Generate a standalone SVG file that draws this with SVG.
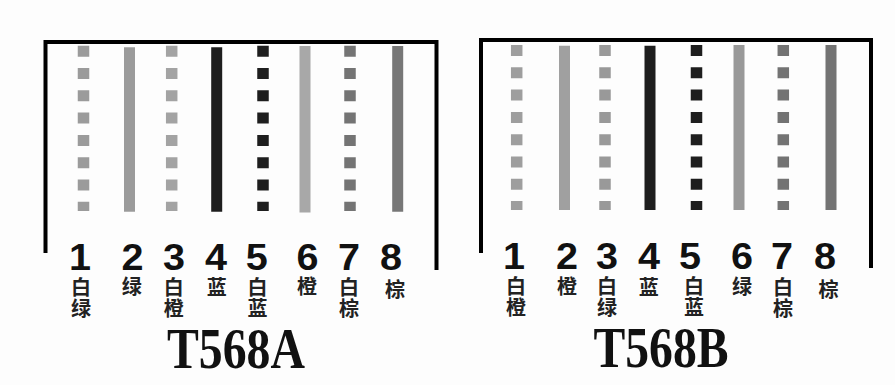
<svg xmlns="http://www.w3.org/2000/svg" width="895" height="385" viewBox="0 0 895 385">
<style>
.frame{fill:none;stroke:#000;stroke-width:4}
.solid{stroke-width:11;fill:none}
.dot{stroke-width:11.5;fill:none;stroke-dasharray:11 11.3}
.num{font-family:"Liberation Sans",Arial,sans-serif;font-weight:bold;font-size:37px;text-anchor:middle;fill:#111}
.cn{font-family:"Noto Sans CJK SC",sans-serif;font-weight:bold;font-size:20px;text-anchor:middle;fill:#222}
.title{font-family:"Liberation Serif","Times New Roman",serif;font-weight:bold;font-size:58px;text-anchor:middle;fill:#111}
</style>
<rect width="895" height="385" fill="#fdfdfd"/>
<g id="boxA">
<path class="frame" d="M45.5 253 V42 H436.5 V270"/>
</g>
<g id="boxB">
<path class="frame" d="M481 253 V40 H871 V268"/>
</g>
<g id="wiresA">
<line class="dot" x1="83.5" y1="45.7" x2="83.5" y2="211" stroke="#9b9b9b"/>
<line class="solid" x1="129.5" y1="47.3" x2="129.5" y2="211.7" stroke="#9b9b9b"/>
<line class="dot" x1="171.7" y1="45.7" x2="171.7" y2="211" stroke="#a3a3a3"/>
<line class="solid" x1="216.7" y1="47.3" x2="216.7" y2="211.7" stroke="#1e1e1e"/>
<line class="dot" x1="263" y1="45.7" x2="263" y2="211" stroke="#1e1e1e"/>
<line class="solid" x1="305" y1="46" x2="305" y2="212.5" stroke="#a8a8a8"/>
<line class="dot" x1="350" y1="45.7" x2="350" y2="211" stroke="#747474"/>
<line class="solid" x1="397.7" y1="46" x2="397.7" y2="211.7" stroke="#777"/>
</g>
<g id="wiresB">
<line class="dot" x1="516.7" y1="45" x2="516.7" y2="210" stroke="#9e9e9e"/>
<line class="solid" x1="564.5" y1="45.7" x2="564.5" y2="210" stroke="#a0a0a0"/>
<line class="dot" x1="605" y1="45" x2="605" y2="210" stroke="#999"/>
<line class="solid" x1="650" y1="45.7" x2="650" y2="210" stroke="#1e1e1e"/>
<line class="dot" x1="696.5" y1="45" x2="696.5" y2="210" stroke="#1e1e1e"/>
<line class="solid" x1="739" y1="45" x2="739" y2="210" stroke="#999"/>
<line class="dot" x1="783.3" y1="45" x2="783.3" y2="210" stroke="#737373"/>
<line class="solid" x1="831" y1="45" x2="831" y2="210" stroke="#737373"/>
</g>
<g id="labelsA">
<text class="num" x="80" y="270" textLength="22" lengthAdjust="spacingAndGlyphs">1</text>
<text class="num" x="132.5" y="270" textLength="22" lengthAdjust="spacingAndGlyphs">2</text>
<text class="num" x="174" y="270" textLength="22" lengthAdjust="spacingAndGlyphs">3</text>
<text class="num" x="216" y="270" textLength="22" lengthAdjust="spacingAndGlyphs">4</text>
<text class="num" x="256.7" y="270" textLength="22" lengthAdjust="spacingAndGlyphs">5</text>
<text class="num" x="307.5" y="270" textLength="22" lengthAdjust="spacingAndGlyphs">6</text>
<text class="num" x="349" y="270" textLength="22" lengthAdjust="spacingAndGlyphs">7</text>
<text class="num" x="391" y="270" textLength="22" lengthAdjust="spacingAndGlyphs">8</text>
<text class="cn" x="81" y="295">白</text>
<text class="cn" x="81" y="316">绿</text>
<text class="cn" x="131.7" y="294">绿</text>
<text class="cn" x="173.7" y="295">白</text>
<text class="cn" x="173.7" y="316">橙</text>
<text class="cn" x="216.7" y="295">蓝</text>
<text class="cn" x="257.5" y="295">白</text>
<text class="cn" x="257.5" y="316">蓝</text>
<text class="cn" x="307" y="294">橙</text>
<text class="cn" x="349" y="295">白</text>
<text class="cn" x="349" y="316">棕</text>
<text class="cn" x="395" y="297">棕</text>
<text class="title" x="236" y="368" textLength="138" lengthAdjust="spacingAndGlyphs">T568A</text>
</g>
<g id="labelsB">
<text class="num" x="514" y="269" textLength="22" lengthAdjust="spacingAndGlyphs">1</text>
<text class="num" x="567" y="269" textLength="22" lengthAdjust="spacingAndGlyphs">2</text>
<text class="num" x="607" y="269" textLength="22" lengthAdjust="spacingAndGlyphs">3</text>
<text class="num" x="649" y="269" textLength="22" lengthAdjust="spacingAndGlyphs">4</text>
<text class="num" x="690" y="269" textLength="22" lengthAdjust="spacingAndGlyphs">5</text>
<text class="num" x="742" y="269" textLength="22" lengthAdjust="spacingAndGlyphs">6</text>
<text class="num" x="782" y="269" textLength="22" lengthAdjust="spacingAndGlyphs">7</text>
<text class="num" x="825" y="269" textLength="22" lengthAdjust="spacingAndGlyphs">8</text>
<text class="cn" x="516" y="294">白</text>
<text class="cn" x="516" y="315">橙</text>
<text class="cn" x="567" y="294">橙</text>
<text class="cn" x="607" y="294">白</text>
<text class="cn" x="607" y="315">绿</text>
<text class="cn" x="648.7" y="295">蓝</text>
<text class="cn" x="694" y="294">白</text>
<text class="cn" x="694" y="315">蓝</text>
<text class="cn" x="742" y="294">绿</text>
<text class="cn" x="783" y="295">白</text>
<text class="cn" x="783" y="316">棕</text>
<text class="cn" x="828.5" y="297">棕</text>
<text class="title" x="661" y="366.5" textLength="135" lengthAdjust="spacingAndGlyphs">T568B</text>
</g>
</svg>
